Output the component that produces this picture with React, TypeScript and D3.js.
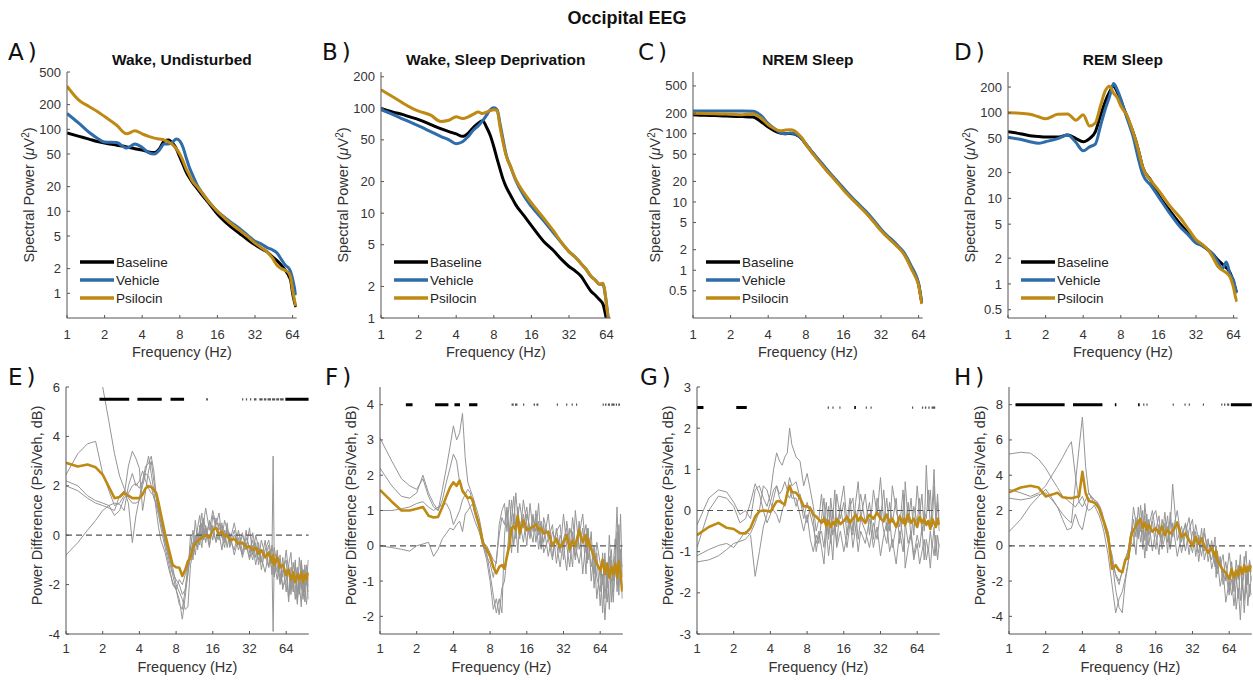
import React from 'react';
import * as d3 from 'd3';

// ================= DATA =================
// Top row: spectral power (µV²) on a shared frequency grid (Hz)
const SPEC_FREQ = [1, 1.25, 1.5, 1.75, 2, 2.5, 3, 3.5, 4, 4.5, 5, 5.5, 6, 6.5, 7, 7.5, 8, 8.5, 9, 9.5, 10, 11, 12, 14, 16, 20, 24, 28, 32, 36, 40, 44, 48, 52, 56, 60, 62, 64, 66, 68];

const A_BASELINE = [90, 82, 76, 71, 68, 64, 61, 58, 56, 53, 52, 58, 72, 74, 68, 58, 46, 37, 30, 26, 23, 19, 16, 12, 9.3, 6.7, 5.4, 4.5, 3.9, 3.5, 3.2, 2.8, 2.5, 2.2, 1.9, 1.6, 1.4, 1.0, 0.8, 0.68];
const A_VEHICLE = [156, 118, 92, 78, 70, 69, 59, 66, 60, 52, 50, 56, 66, 66, 70, 76, 72, 60, 45, 35, 29, 21, 17, 12.5, 10, 7.6, 6.2, 5.1, 4.3, 4.0, 3.6, 3.4, 3.1, 2.6, 2.2, 2.0, 1.8, 1.5, 1.2, 0.95];
const A_PSILOCIN = [335, 225, 190, 165, 143, 112, 88, 96, 88, 82, 78, 76, 74, 70, 65, 58, 50, 41, 33, 28, 24, 20, 17, 12.5, 10, 7.3, 5.9, 4.9, 4.1, 3.6, 3.2, 2.7, 2.2, 2.0, 1.9, 1.75, 1.5, 1.1, 0.85, 0.7];

const B_BASELINE = [100, 92, 87, 82, 78, 70, 64, 60, 57, 54, 58, 66, 72, 76, 66, 55, 43, 33, 26, 21, 18, 14.5, 12, 9.4, 7.6, 5.4, 4.4, 3.6, 3.1, 2.8, 2.5, 2.1, 1.8, 1.65, 1.5, 1.35, 1.15, 0.95, 0.8, 0.7];
const B_VEHICLE = [97, 87, 79, 73, 68, 60, 54, 50, 46, 48, 54, 62, 68, 76, 86, 97, 101, 97, 70, 50, 37, 27, 20.5, 14.5, 11.6, 8.5, 6.5, 5.2, 4.3, 3.8, 3.3, 2.9, 2.5, 2.3, 2.1, 2.1, 1.75, 1.35, 1.0, 0.85];
const B_PSILOCIN = [150, 128, 112, 101, 94, 86, 75, 77, 83, 80, 83, 88, 92, 89, 92, 95, 97, 95, 65, 47, 36, 27, 21, 15.5, 12.5, 9, 6.8, 5.2, 4.3, 3.8, 3.3, 2.9, 2.5, 2.3, 2.1, 2.15, 1.8, 1.3, 1.0, 0.9];

const C_BASELINE = [190, 186, 184, 182, 180, 178, 175, 150, 125, 110, 102, 100, 101, 99, 92, 82, 70, 61, 53, 47, 42, 34, 28, 20.5, 15.5, 10, 7.2, 5.2, 3.9, 3.1, 2.6, 2.2, 1.85, 1.45, 1.1, 0.85, 0.75, 0.62, 0.45, 0.33];
const C_VEHICLE = [215, 215, 215, 215, 215, 215, 213, 185, 140, 118, 104, 100, 102, 100, 93, 83, 71, 62, 54, 48, 43, 35, 29, 21, 16, 10.3, 7.4, 5.4, 4.0, 3.2, 2.7, 2.25, 1.9, 1.5, 1.15, 0.9, 0.78, 0.64, 0.47, 0.34];
const C_PSILOCIN = [200, 198, 196, 194, 193, 190, 196, 170, 135, 118, 110, 113, 114, 110, 98, 85, 70, 60, 52, 46, 41, 33, 27.5, 20, 15, 9.8, 7.0, 5.1, 3.8, 3.05, 2.55, 2.15, 1.8, 1.4, 1.05, 0.82, 0.72, 0.6, 0.44, 0.32];

const D_BASELINE = [60, 57, 54, 53, 52, 52, 55, 50, 46, 50, 60, 93, 135, 175, 205, 175, 140, 110, 90, 73, 60, 38, 23, 16, 11, 7, 5, 3.9, 3.1, 2.8, 2.5, 2.2, 1.9, 1.7, 1.55, 1.35, 1.2, 1.05, 0.9, 0.8];
const D_VEHICLE = [52, 49, 46, 44, 46, 50, 55, 45, 36, 40, 43, 70, 110, 155, 220, 185, 145, 110, 85, 68, 54, 30, 19, 14, 10.5, 6.5, 4.6, 3.7, 3.0, 2.8, 2.5, 2.2, 1.8, 1.5, 1.8, 1.3, 1.2, 1.1, 0.9, 0.78];
const D_PSILOCIN = [100, 99, 96, 90, 85, 96, 97, 82, 95, 70, 76, 120, 180, 205, 170, 150, 120, 105, 92, 75, 60, 38, 23, 16, 12.5, 8, 5.9, 4.3, 3.3, 2.9, 2.5, 2.0, 1.6, 1.45, 1.35, 1.2, 1.05, 0.9, 0.72, 0.62];

// Bottom row: power difference (dB), frequency grid split in low / high part
const DIFF_FREQ_LO = [1, 1.25, 1.5, 1.75, 2, 2.25, 2.5, 2.75, 3, 3.25, 3.5, 3.75, 4, 4.25, 4.5, 4.75, 5, 5.25, 5.5, 5.75, 6, 6.5, 7, 7.5, 8, 8.5, 9, 9.5, 10];
const DIFF_FREQ_HI = [10.5, 11, 11.5, 12, 12.5, 13, 13.5, 14, 15, 16, 17, 18, 19, 20, 21, 22, 24, 26, 28, 30, 32, 34, 36, 38, 40, 43, 46, 49, 50, 51, 54, 57, 60, 64, 67, 70, 73, 76, 79, 82, 85, 88, 91, 94, 97];

// E) Wake, undisturbed
const E_MEAN_LO = [2.93, 2.78, 2.86, 2.75, 2.45, 1.95, 1.5, 1.55, 1.72, 1.6, 1.5, 1.5, 1.5, 1.65, 1.9, 1.98, 1.95, 1.85, 1.7, 1.3, 0.85, 0.05, -0.6, -1.2, -1.3, -1.32, -1.65, -1.4, -1.05];
const E_MEAN_HI = [-0.9, -0.5, -0.35, -0.25, -0.15, -0.1, -0.05, 0.0, -0.1, 0.2, 0.3, 0.05, 0.15, -0.05, 0.0, -0.2, -0.15, -0.35, -0.3, -0.5, -0.45, -0.6, -0.5, -0.75, -0.6, -0.9, -0.7, -1.1, -0.8, -1.2, -0.9, -1.3, -1.2, -1.6, -1.4, -1.8, -1.5, -1.9, -1.6, -1.8, -1.5, -1.9, -1.6, -1.8, -1.5];
const E_SUBJ_LO = [
  [2.45, 3.3, 3.7, 3.8, 2.5, 1.8, 1.2, 1.3, 1.6, 2.8, 3.4, 3.1, 2.7, 1.0, 1.8, 2.6, 3.0, 2.2, 1.5, 1.0, 0.5, -0.3, -0.8, -1.5, -1.8, -2.0, -2.4, -2.2, -1.2],
  [-0.8, -0.3, 0.2, 0.6, 1.0, 1.2, 1.3, 1.25, 1.0, 2.0, 2.5, 2.0, 2.2, 2.6, 2.2, 1.9, 1.7, 1.6, 1.2, 0.8, 0.3, -0.5, -1.2, -2.0, -2.2, -2.6, -3.4, -2.5, -1.5],
  [2.0, 1.8, 1.5, 1.3, 1.2, 1.1, 1.0, 1.6, 1.8, 1.3, -0.3, 0.8, 1.5, 2.2, 2.8, 2.9, 3.2, 2.6, 1.6, 0.9, 0.5, -0.2, -0.9, -1.3, -2.0, -2.3, -2.6, -3.0, -2.9],
  [2.2, 2.0, 1.6, 1.4, 1.3, 1.2, 0.8, 1.0, 1.5, 1.7, 2.0, 2.1, 1.9, 2.2, 2.6, 3.2, 2.5, 1.8, 1.0, 0.3, -0.2, -0.7, -1.4, -1.9, -2.2, -1.8, -2.0, -1.6, -1.3],
  [12, 10.5, 9, 7.5, 6.0, 4.6, 3.3, 2.4, 1.9, 1.5, 1.3, 1.3, 1.4, 2.0, 2.5, 2.4, 2.0, 1.5, 1.3, 1.0, 0.8, -0.3, -1.0, -1.6, -2.2, -2.8, -3.0, -2.2, -1.6],
];
const E_SUBJ_HI = [
  [-0.6, 0.2, -0.4, 0.3, 0.8, -0.2, 0.6, 1.1, 0.2, 1.0, 0.4, 0.9, -0.1, 0.6, 0.2, -0.3, 0.5, -0.4, 0.1, -0.6, 0.3, -0.8, 0.0, -0.5, -1.1, -0.2, -1.3, -0.4, -0.9, -1.6, -0.6, -1.9, -0.9, -2.3, -1.2, -0.7, -2.1, -1.1, -2.4, -0.9, -1.8, -2.6, -1.2, -2.0, -1.0],
  [-0.9, -0.3, -0.8, 0.1, -0.4, 0.5, -0.2, 0.3, -0.5, 0.4, -0.3, 0.1, -0.6, 0.2, -0.5, 0.1, -0.8, -0.1, -0.9, -0.3, -1.0, -0.4, -1.2, -0.5, -0.9, -1.5, -0.7, -1.4, -3.9, -1.1, -1.8, -0.8, -2.2, -1.4, -2.7, -1.6, -2.3, -1.0, -2.6, -1.9, -2.9, -1.4, -2.2, -2.8, -1.7],
  [-1.2, -0.7, -0.2, -0.5, 0.4, -0.1, 0.7, 0.0, 0.5, -0.2, 0.7, 0.2, 0.5, -0.3, 0.3, -0.4, 0.2, -0.6, 0.0, -0.4, -0.9, 0.1, -0.6, -1.0, -0.2, -0.8, -1.3, -0.5, 3.2, -0.9, -1.5, -1.1, -1.7, -0.6, -1.5, -2.2, -1.1, -1.8, -1.3, -2.4, -1.0, -1.7, -2.3, -1.5, -2.1],
  [-0.4, -1.0, 0.0, -0.6, 0.1, -0.5, 0.3, -0.3, 0.6, 0.1, -0.2, 0.5, 0.0, -0.5, 0.3, -0.1, -0.6, 0.2, -0.7, -0.1, -0.5, -1.0, -0.3, -1.2, -0.6, -0.9, -0.4, -1.6, -1.0, -0.5, -1.2, -2.0, -1.4, -1.0, -2.5, -1.3, -1.7, -2.6, -1.5, -2.1, -1.1, -2.5, -1.9, -1.2, -2.6],
  [0.0, -0.5, 0.6, -0.3, 0.2, 0.9, -0.1, 0.4, -0.4, 0.8, 0.3, -0.2, 0.4, -0.2, 0.5, -0.5, 0.0, -0.3, -0.8, 0.2, -0.7, -0.2, -0.9, -0.3, -1.4, -0.6, -0.2, -1.0, -1.3, -1.7, -0.8, -1.5, -2.1, -1.8, -1.2, -2.4, -1.5, -2.0, -2.8, -1.6, -2.2, -1.4, -2.7, -1.8, -2.3],
];
const E_SIG_MAIN = [[1.88, 3.3], [3.85, 6.1], [7.2, 9.3], [63, 98]];
const E_SIG_MINOR = [[14.1, 14.6], [27.8, 28.4], [29.9, 30.5], [32.3, 33], [34.8, 36.5], [38.5, 41], [42, 44], [45, 48], [49, 52], [53, 56], [57, 61]];

// F) Wake, sleep deprivation
const F_MEAN_LO = [1.58, 1.25, 1.0, 1.0, 1.05, 1.1, 0.85, 0.8, 0.82, 1.1, 1.4, 1.65, 1.8, 1.7, 1.85, 1.55, 1.45, 1.35, 1.38, 1.3, 1.0, 0.6, 0.05, -0.1, -0.3, -0.6, -0.78, -0.6, -0.55];
const F_MEAN_HI = [-0.65, -0.3, 0.0, 0.5, 0.55, 0.45, 0.85, 0.35, 0.72, 0.44, 0.5, 0.53, 0.62, 0.45, 0.5, 0.35, 0.4, 0.0, 0.2, -0.05, 0.1, 0.3, -0.1, 0.15, 0.0, 0.45, 0.1, 0.3, 0.0, 0.2, -0.1, -0.3, -0.5, -0.7, -0.4, -0.8, -0.5, -0.9, -0.6, -0.8, -0.5, -0.9, -0.45, -0.8, -1.3];
const F_SUBJ_LO = [
  [3.05, 2.4, 1.9, 1.7, 1.6, 1.9, 1.4, 1.1, 1.0, 1.6, 2.2, 2.8, 3.4, 3.0, 3.2, 3.75, 2.5, 1.8, 1.6, 1.4, 1.2, 0.8, 0.2, -0.2, -0.8, -1.4, -1.9, -1.5, -1.9],
  [2.2, 1.7, 1.4, 1.35, 1.5, 2.0, 1.5, 1.2, 1.0, 1.3, 1.8, 2.2, 2.6, 2.4, 1.8, 1.6, 1.5, 1.3, 1.1, 0.9, 0.7, 0.4, 0.0, -0.4, -1.0, -1.8, -1.5, -1.95, -1.2],
  [1.0, 1.0, 1.05, 1.1, 1.2, 1.25, 1.1, 1.0, 1.1, 1.15, 1.2, 1.0, 0.6, 0.8, 1.0, 1.3, 1.45, 1.6, 1.5, 1.2, 0.9, 0.5, 0.1, -0.3, -0.5, -0.9, -0.4, 0.3, 0.8],
  [0.0, -0.05, -0.1, -0.15, 0.0, 0.05, 0.1, -0.3, -0.1, 0.2, 0.35, 0.5, 0.45, 0.6, 0.7, 0.4, 0.9, 1.0, 1.1, 1.2, 1.0, 0.6, 0.1, 0.0, -0.2, -0.4, -0.5, 0.6, 1.0],
];
const F_SUBJ_HI = [
  [0.3, 1.0, 0.4, 1.3, 0.6, 1.5, 0.8, 1.2, 0.5, 1.1, 0.3, 0.9, 0.1, 0.7, -0.1, 0.8, 0.2, -0.4, 0.5, -0.2, 0.9, 0.0, -0.6, 0.4, -0.3, 0.7, -0.8, 0.2, -0.5, 0.5, -1.0, -0.2, -1.5, -0.6, -1.9, -0.4, -1.2, 0.3, -0.9, -1.6, -0.3, -1.1, 0.6, -0.7, -1.2],
  [-1.0, -0.3, 0.5, -0.2, 0.9, 0.2, 1.1, 0.3, 0.9, 0.0, 1.2, 0.4, 0.8, -0.1, 0.5, 0.1, 0.9, -0.3, 0.4, 0.6, -0.4, 0.7, 0.1, -0.6, 1.0, -0.1, 0.5, -0.8, 0.3, -0.4, 0.4, -1.2, -0.2, -1.7, -0.8, -2.1, -1.0, -0.3, -1.6, -0.5, 0.2, -1.3, -0.6, 0.9, -0.9],
  [0.6, 1.1, 0.2, 0.8, 0.0, 0.6, -0.2, 0.7, 0.1, 0.9, 0.5, 0.1, 1.0, 0.3, 0.7, -0.2, 0.2, 0.6, -0.5, 0.3, 0.0, -0.7, 0.5, 0.2, -0.4, 0.3, 0.9, -0.2, 0.5, 0.1, -0.6, 0.0, -0.9, -1.3, -0.2, -1.5, -0.6, -1.8, -0.4, -1.0, -0.2, 1.1, -0.8, -0.1, -1.5],
  [1.2, 0.4, 1.3, 0.7, 1.4, 0.5, 1.0, 0.2, 1.3, 0.6, 0.2, 0.8, 0.4, 1.2, 0.0, 0.6, -0.3, 0.4, 0.1, -0.6, 0.2, 0.5, -0.2, 0.8, 0.0, -0.5, 0.2, 0.6, -0.3, 0.2, 0.0, -0.8, 0.1, -0.5, -1.1, -0.2, -1.6, -0.9, -0.1, -1.3, -0.7, 0.4, -1.4, -0.3, -0.6],
];
const F_SIG_MAIN = [[1.63, 1.85], [2.83, 3.64], [4.08, 4.53], [5.38, 6.29]];
const F_SIG_MINOR = [[12.0, 12.5], [12.8, 13.4], [14.9, 15.2], [18.2, 18.7], [19.2, 19.9], [28.2, 28.6], [33.6, 34], [37.3, 37.7], [40.5, 40.9], [67, 68.5], [70, 72], [74, 77], [79, 84], [86, 88], [90, 93]];

// G) NREM sleep
const G_MEAN_LO = [-0.6, -0.4, -0.3, -0.42, -0.45, -0.55, -0.56, -0.42, -0.15, -0.02, 0.0, -0.01, -0.03, 0.1, 0.22, 0.23, 0.18, 0.15, 0.42, 0.6, 0.45, 0.43, 0.3, 0.1, 0.1, 0.05, -0.1, -0.15, -0.22];
const G_MEAN_HI = [-0.3, -0.2, -0.38, -0.25, -0.4, -0.28, -0.35, -0.2, -0.33, -0.25, -0.15, -0.3, -0.2, -0.1, -0.25, -0.15, -0.3, -0.1, -0.2, -0.05, -0.2, -0.25, -0.1, -0.3, -0.2, -0.4, -0.15, -0.3, -0.2, -0.35, -0.1, -0.3, -0.2, -0.4, -0.15, -0.3, -0.2, -0.35, -0.25, -0.45, -0.2, -0.3, -0.4, -0.2, -0.35];
const G_SUBJ_LO = [
  [-0.35, 0.3, 0.5, 0.45, 0.2, -0.1, 0.0, -0.2, 0.5, 0.6, 0.3, 0.1, 0.4, 1.0, 1.4, 1.2, 1.1, 1.3, 1.4, 2.0, 1.6, 1.3, 1.2, 0.6, 0.9, 0.5, 0.1, -0.5, -0.2],
  [-0.9, 0.0, 0.35, 0.3, 0.1, -0.3, -0.2, 0.2, 0.65, 0.4, 0.0, -0.3, -0.1, 0.3, 0.6, 0.3, 0.2, 0.1, 0.5, 0.8, 0.6, 0.7, 0.3, -0.2, 0.2, -0.1, -0.4, -0.8, -0.5],
  [-1.1, -0.95, -0.85, -0.8, -0.9, -0.7, -0.5, -0.6, -1.6, -1.0, -0.4, -0.1, 0.2, 0.5, 0.6, 0.4, 0.5, 0.7, 0.5, 0.6, 0.3, 0.3, -0.1, -0.5, -0.1, -0.7, -1.0, -0.6, -0.8],
  [-1.25, -1.2, -1.1, -0.95, -0.8, -0.75, -0.7, -0.55, -0.3, 0.0, 0.6, 0.5, 0.2, 0.0, -0.1, -0.3, 0.0, 0.2, 0.4, 0.3, 0.5, 0.1, 0.4, 0.0, -0.3, 0.1, -0.2, -1.0, -0.6],
];
const G_SUBJ_HI = [
  [0.4, -0.3, 0.2, -0.6, 0.3, -0.2, 0.5, -0.4, 0.1, 0.6, -0.3, 0.3, -0.5, 0.2, 0.7, -0.2, 0.4, -0.6, 0.5, -0.1, 0.8, -0.3, 0.3, -0.5, 0.6, 0.0, -0.4, 0.5, -0.2, 0.7, -0.3, 0.3, -0.6, 0.6, -0.1, 0.4, -0.5, 1.1, 0.0, 0.5, -0.4, 0.6, -0.2, 0.4, -0.3],
  [-0.9, -1.3, -0.5, -1.1, -0.6, -1.2, -0.3, -0.9, -0.5, -1.0, -0.6, -0.2, -0.9, -0.4, -1.0, -0.5, -0.8, -0.2, -0.9, -0.4, -1.1, -0.6, -0.3, -1.0, -0.7, -1.3, -0.5, -1.0, -0.7, -1.4, -0.9, -0.6, -1.2, -0.8, -1.3, -1.0, -0.7, -1.2, -0.9, -1.4, -0.8, -1.1, -0.6, -1.2, -0.8],
  [-0.2, 0.3, -0.5, 0.1, -0.8, 0.0, -0.4, 0.4, -0.2, 0.2, -0.6, 0.1, 0.3, -0.5, 0.0, 0.4, -0.3, 0.2, -0.7, 0.3, -0.2, 0.5, -0.5, 0.2, -0.3, 0.3, -0.8, 0.0, 0.4, -0.4, 0.2, -0.7, 0.1, -0.3, 0.3, -0.6, 0.0, -0.2, 0.5, -0.4, 0.1, 1.0, -0.3, 0.2, -0.5],
  [-0.5, -0.9, -0.2, -0.7, 0.0, -0.6, -0.3, -0.8, 0.1, -0.4, -0.9, -0.3, -0.6, 0.0, -0.7, -0.2, -0.5, -0.9, -0.3, -0.7, 0.0, -0.5, -0.8, -0.2, -0.9, -0.4, -0.1, -0.7, -1.0, -0.3, -0.8, -0.5, -1.1, -0.6, -0.9, -0.4, -1.2, -0.7, -1.0, -0.5, -0.9, -0.4, -1.1, -0.6, -0.9],
];
const G_SIG_MAIN = [[1.0, 1.13], [2.1, 2.56], [19.5, 20.1]];
const G_SIG_MINOR = [[11.8, 12.1], [12.9, 13.2], [14.7, 15], [24.2, 24.6], [26.5, 26.9], [58, 58.7], [70, 71], [74, 76], [79, 81], [84, 90]];

// H) REM sleep
const H_MEAN_LO = [3.03, 3.3, 3.4, 3.3, 2.8, 2.9, 3.0, 2.75, 2.72, 2.7, 2.75, 2.8, 4.2, 3.0, 2.55, 2.5, 2.45, 2.3, 2.1, 1.7, 1.35, 0.55, -1.3, -1.1, -1.4, -1.5, -0.8, -0.7, 0.5];
const H_MEAN_HI = [0.9, 1.1, 1.4, 1.5, 1.0, 1.3, 0.9, 1.2, 0.8, 1.0, 0.7, 1.1, 0.6, 0.9, 0.7, 0.85, 1.3, 0.5, 0.7, 0.3, 0.0, 0.5, 0.1, 0.4, 0.0, -0.4, -0.1, -0.6, -0.3, -0.8, -1.1, -1.4, -1.5, -1.9, -1.3, -1.8, -1.4, -1.7, -1.2, -1.6, -1.1, -1.5, -1.2, -1.4, -1.1];
const H_SUBJ_LO = [
  [5.2, 5.3, 5.25, 4.9, 4.4, 3.8, 3.3, 2.8, 2.6, 2.4, 2.2, 2.5, 2.8, 2.3, 2.0, 2.1, 2.3, 2.0, 1.7, 1.3, 0.8, -0.5, -2.2, -3.8, -3.0, -2.6, -1.8, -0.9, 0.3],
  [3.2, 3.0, 2.8, 3.0, 3.4, 4.0, 4.5, 5.0, 5.5, 5.9, 4.0, 2.5, 2.2, 2.6, 3.0, 2.8, 2.6, 2.5, 2.3, 2.0, 1.5, 0.8, -0.8, -2.5, -3.5, -3.8, -2.0, -1.0, 0.2],
  [2.7, 2.6, 2.7, 2.9, 3.0, 2.6, 2.2, 1.8, 1.5, 1.3, 3.5, 5.5, 7.3, 4.5, 3.0, 2.7, 2.4, 2.5, 2.2, 1.8, 1.4, 0.4, -1.0, -1.6, -2.0, -1.5, -0.7, -0.3, 0.5],
  [0.8, 1.5, 2.3, 2.8, 3.2, 2.7, 2.2, 1.5, 0.9, 1.0, 1.8, 1.2, 0.9, 1.8, 2.6, 2.8, 2.6, 2.5, 2.0, 1.9, 1.2, 0.2, -0.5, -1.7, -2.2, -1.4, -0.9, -0.2, 0.8],
];
const H_SUBJ_HI = [
  [1.5, 0.5, 2.2, 0.8, 2.0, 0.3, 1.8, 0.6, 1.4, -0.2, 1.2, 0.4, 1.9, 0.2, 1.0, 3.5, 0.3, 1.1, -0.3, 0.9, 1.5, -0.6, 0.6, -0.1, 1.0, -0.9, 0.3, -1.2, -0.2, -1.6, -0.8, -2.2, -1.5, -2.8, -0.9, -2.4, -1.6, -3.0, -1.2, -2.3, -0.6, -2.7, -1.5, -0.9, -2.0],
  [0.0, 1.6, 0.4, 2.3, 1.0, 1.7, -0.3, 1.1, 2.0, 0.7, -0.5, 1.5, 0.6, 1.7, -0.2, 0.8, 2.0, 0.2, 1.3, 0.4, -0.4, 0.8, -0.9, 0.5, -0.3, 0.4, -1.3, -0.5, -1.8, -0.7, -2.3, -1.4, -3.2, -2.0, -2.8, -1.5, -3.6, -2.4, -4.2, -2.0, -3.1, -1.6, -3.4, -2.2, -2.8],
  [2.2, 1.3, 0.6, 1.6, -0.2, 2.4, 1.2, 0.0, 1.6, 2.0, 0.7, 0.1, 1.3, -0.4, 1.9, 0.5, 1.4, -0.4, 0.7, 1.6, 0.0, 1.2, 0.3, -0.6, 0.7, -0.2, -0.8, 0.5, -1.0, -0.3, -1.2, -0.5, -2.0, -0.4, -1.6, -2.6, -0.8, -1.9, -0.5, -2.5, -1.2, -0.3, -2.2, -0.8, -1.5],
  [0.6, -0.5, 1.4, 0.2, 0.9, -0.7, 0.8, 1.5, -0.3, 0.9, 1.7, -0.2, 0.5, 1.1, -0.1, 1.3, -0.6, 0.6, 1.2, -0.5, 0.8, 0.2, -0.4, 1.0, -0.8, 0.2, -0.3, -1.0, 0.0, -1.3, -0.6, -1.8, -0.9, -2.5, -1.9, -3.4, -2.2, -1.1, -3.1, -1.8, -3.8, -2.1, -1.3, -2.9, -1.7],
];
const H_SIG_MAIN = [[1.13, 2.86], [3.35, 5.84], [7.38, 7.6], [11.45, 11.8], [66, 100]];
const H_SIG_MINOR = [[12.6, 12.9], [13.4, 13.7], [22, 22.4], [27.5, 27.9], [29.8, 30.2], [38.9, 39.3], [55, 55.6], [58, 59.5], [61.5, 64]];

// Ticks
const FREQ_TICKS = [1, 2, 4, 8, 16, 32, 64];
const A_YTICKS = [1, 2, 5, 10, 20, 50, 100, 200, 500];
const B_YTICKS = [1, 2, 5, 10, 20, 50, 100, 200];
const C_YTICKS = [0.5, 1, 2, 5, 10, 20, 50, 100, 200, 500];
const D_YTICKS = [0.5, 1, 2, 5, 10, 20, 50, 100, 200];
const E_YTICKS = [-4, -2, 0, 2, 4, 6];
const F_YTICKS = [-2, -1, 0, 1, 2, 3, 4];
const G_YTICKS = [-3, -2, -1, 0, 1, 2, 3];
const H_YTICKS = [-4, -2, 0, 2, 4, 6, 8];

// ================= STYLE / LAYOUT =================
const FONT = '"Liberation Sans", Arial, Helvetica, sans-serif';
const LETTER_FONT = '"DejaVu Sans", "Open Sans", sans-serif';
const COL_BASE = '#000000';
const COL_VEH = '#2E6DAA';
const COL_PSI = '#BF8A14';
const AXIS_COL = '#555555';
const TEXT_COL = '#333333';

const TOP_T = 72, TOP_B = 318, TOP_OCT = 37.6;
const BOT_T = 387, BOT_B = 634, BOT_OCT = 36.7;
const SPEC_X_DOMAIN = [1, 69];
const DIFF_X_DOMAIN = [1, 98];

const TOP_PANELS = [
  { letter: 'A)', letterX: 8, title: 'Wake, Undisturbed', left: 67, yDomain: [0.5, 500], yTicks: A_YTICKS, base: A_BASELINE, veh: A_VEHICLE, psi: A_PSILOCIN },
  { letter: 'B)', letterX: 322, title: 'Wake, Sleep Deprivation', left: 381, yDomain: [1, 222], yTicks: B_YTICKS, base: B_BASELINE, veh: B_VEHICLE, psi: B_PSILOCIN },
  { letter: 'C)', letterX: 638, title: 'NREM Sleep', left: 693, yDomain: [0.2, 800], yTicks: C_YTICKS, base: C_BASELINE, veh: C_VEHICLE, psi: C_PSILOCIN },
  { letter: 'D)', letterX: 954, title: 'REM Sleep', left: 1008, yDomain: [0.4, 300], yTicks: D_YTICKS, base: D_BASELINE, veh: D_VEHICLE, psi: D_PSILOCIN },
];

const BOTTOM_PANELS = [
  { letter: 'E)', letterX: 8, left: 66, yDomain: [-4, 6], yTicks: E_YTICKS, meanLo: E_MEAN_LO, meanHi: E_MEAN_HI, subjLo: E_SUBJ_LO, subjHi: E_SUBJ_HI, sigLevel: 5.5, sigMain: E_SIG_MAIN, sigMinor: E_SIG_MINOR },
  { letter: 'F)', letterX: 325, left: 380, yDomain: [-2.5, 4.5], yTicks: F_YTICKS, meanLo: F_MEAN_LO, meanHi: F_MEAN_HI, subjLo: F_SUBJ_LO, subjHi: F_SUBJ_HI, sigLevel: 4, sigMain: F_SIG_MAIN, sigMinor: F_SIG_MINOR },
  { letter: 'G)', letterX: 640, left: 697, yDomain: [-3, 3], yTicks: G_YTICKS, meanLo: G_MEAN_LO, meanHi: G_MEAN_HI, subjLo: G_SUBJ_LO, subjHi: G_SUBJ_HI, sigLevel: 2.5, sigMain: G_SIG_MAIN, sigMinor: G_SIG_MINOR },
  { letter: 'H)', letterX: 954, left: 1009, yDomain: [-5, 9], yTicks: H_YTICKS, meanLo: H_MEAN_LO, meanHi: H_MEAN_HI, subjLo: H_SUBJ_LO, subjHi: H_SUBJ_HI, sigLevel: 8, sigMain: H_SIG_MAIN, sigMinor: H_SIG_MINOR },
];

function zip(xs: number[], ys: number[]): [number, number][] {
  const n = Math.min(xs.length, ys.length);
  const out: [number, number][] = [];
  for (let i = 0; i < n; i++) out.push([xs[i], ys[i]]);
  return out;
}

const fmt = (v: number) => String(v);

function TopPanel({ p, idx }: { p: any; idx: number }) {
  const x = d3.scaleLog().domain(SPEC_X_DOMAIN).range([p.left, p.left + TOP_OCT * Math.log2(SPEC_X_DOMAIN[1])]);
  const y = d3.scaleLog().domain(p.yDomain).range([TOP_B, TOP_T]);
  const [xa, xb] = x.range();
  const line = d3.line<[number, number]>().x(d => x(d[0])).y(d => y(d[1])).curve(d3.curveMonotoneX);
  const clipId = `clip-top-${idx}`;
  const series = [
    { vals: p.base, color: COL_BASE, label: 'Baseline' },
    { vals: p.veh, color: COL_VEH, label: 'Vehicle' },
    { vals: p.psi, color: COL_PSI, label: 'Psilocin' },
  ];
  const cx = (xa + xb) / 2;
  const cy = (TOP_T + TOP_B) / 2;
  const legendRows = [262, 280, 298];
  return (
    <g>
      <defs>
        <clipPath id={clipId}>
          <rect x={xa} y={TOP_T} width={xb - xa} height={TOP_B - TOP_T} />
        </clipPath>
      </defs>
      <text x={p.letterX} y={60} fontFamily={LETTER_FONT} fontSize={23} letterSpacing={4} fill="#111">{p.letter}</text>
      <text x={cx} y={65} textAnchor="middle" fontFamily={FONT} fontSize={15.5} fontWeight="bold" fill="#111">{p.title}</text>
      <g clipPath={`url(#${clipId})`}>
        {series.map(s => (
          <path key={s.label} d={line(zip(SPEC_FREQ, s.vals)) || ''} fill="none" stroke={s.color} strokeWidth={3} strokeLinejoin="round" />
        ))}
      </g>
      {/* axes */}
      <line x1={xa} x2={xa} y1={TOP_T} y2={TOP_B} stroke={AXIS_COL} strokeWidth={1} />
      <line x1={xa} x2={xb} y1={TOP_B} y2={TOP_B} stroke={AXIS_COL} strokeWidth={1} />
      {p.yTicks.map((t: number) => (
        <g key={'y' + t}>
          <line x1={xa} x2={xa + 3} y1={y(t)} y2={y(t)} stroke={AXIS_COL} />
          <text x={xa - 6} y={y(t)} dy="0.35em" textAnchor="end" fontFamily={FONT} fontSize={13} fill={TEXT_COL}>{fmt(t)}</text>
        </g>
      ))}
      {FREQ_TICKS.map(t => (
        <g key={'x' + t}>
          <line x1={x(t)} x2={x(t)} y1={TOP_B} y2={TOP_B - 3} stroke={AXIS_COL} />
          <text x={x(t)} y={339} textAnchor="middle" fontFamily={FONT} fontSize={13} fill={TEXT_COL}>{t}</text>
        </g>
      ))}
      <text x={cx} y={357} textAnchor="middle" fontFamily={FONT} fontSize={14.5} fill={TEXT_COL}>Frequency (Hz)</text>
      <text transform={`translate(${xa - 38},${cy}) rotate(-90)`} textAnchor="middle" dy="0.35em" fontFamily={FONT} fontSize={14.5} fill={TEXT_COL}>
        Spectral Power (<tspan fontStyle="italic">μ</tspan>V<tspan dy="-5" fontSize={10}>2</tspan><tspan dy="5">)</tspan>
      </text>
      {/* legend */}
      {series.map((s, i) => (
        <g key={'lg' + s.label}>
          <line x1={xa + 13} x2={xa + 47} y1={legendRows[i]} y2={legendRows[i]} stroke={s.color} strokeWidth={3.5} />
          <text x={xa + 49} y={legendRows[i]} dy="0.35em" fontFamily={FONT} fontSize={13.5} fill="#222">{s.label}</text>
        </g>
      ))}
    </g>
  );
}

function BottomPanel({ p, idx }: { p: any; idx: number }) {
  const x = d3.scaleLog().domain(DIFF_X_DOMAIN).range([p.left, p.left + BOT_OCT * Math.log2(DIFF_X_DOMAIN[1])]);
  const y = d3.scaleLinear().domain(p.yDomain).range([BOT_B, BOT_T]);
  const [xa, xb] = x.range();
  const freqs = DIFF_FREQ_LO.concat(DIFF_FREQ_HI);
  const line = d3.line<[number, number]>().x(d => x(d[0])).y(d => y(d[1]));
  const clipId = `clip-bot-${idx}`;
  const cx = (xa + xb) / 2;
  const cy = (BOT_T + BOT_B) / 2;
  const sy = y(p.sigLevel);
  return (
    <g>
      <defs>
        <clipPath id={clipId}>
          <rect x={xa} y={BOT_T} width={xb - xa} height={BOT_B - BOT_T} />
        </clipPath>
      </defs>
      <text x={p.letterX} y={385} fontFamily={LETTER_FONT} fontSize={23} letterSpacing={4} fill="#111">{p.letter}</text>
      <g clipPath={`url(#${clipId})`}>
        {p.subjLo.map((lo: number[], i: number) => (
          <path key={'s' + i} d={line(zip(freqs, lo.concat(p.subjHi[i]))) || ''} fill="none" stroke="#959595" strokeWidth={1} strokeLinejoin="round" />
        ))}
        <line x1={xa} x2={xb} y1={y(0)} y2={y(0)} stroke="#555" strokeWidth={1.2} strokeDasharray="6 4" />
        <path d={line(zip(freqs, p.meanLo.concat(p.meanHi))) || ''} fill="none" stroke={COL_PSI} strokeWidth={2.6} strokeLinejoin="round" />
        {p.sigMinor.map((r: number[], i: number) => (
          <line key={'m' + i} x1={x(r[0])} x2={Math.max(x(r[1]), x(r[0]) + 1.2)} y1={sy} y2={sy} stroke="#555" strokeWidth={2.2} />
        ))}
        {p.sigMain.map((r: number[], i: number) => (
          <line key={'M' + i} x1={x(r[0])} x2={Math.max(x(r[1]), x(r[0]) + 1.5)} y1={sy} y2={sy} stroke="#000" strokeWidth={3} />
        ))}
      </g>
      <line x1={xa} x2={xa} y1={BOT_T} y2={BOT_B} stroke={AXIS_COL} strokeWidth={1} />
      <line x1={xa} x2={xb} y1={BOT_B} y2={BOT_B} stroke={AXIS_COL} strokeWidth={1} />
      {p.yTicks.map((t: number) => (
        <g key={'y' + t}>
          <line x1={xa} x2={xa + 3} y1={y(t)} y2={y(t)} stroke={AXIS_COL} />
          <text x={xa - 6} y={y(t)} dy="0.35em" textAnchor="end" fontFamily={FONT} fontSize={13} fill={TEXT_COL}>{fmt(t)}</text>
        </g>
      ))}
      {FREQ_TICKS.map(t => (
        <g key={'x' + t}>
          <line x1={x(t)} x2={x(t)} y1={BOT_B} y2={BOT_B - 3} stroke={AXIS_COL} />
          <text x={x(t)} y={653} textAnchor="middle" fontFamily={FONT} fontSize={13} fill={TEXT_COL}>{t}</text>
        </g>
      ))}
      <text x={cx} y={672} textAnchor="middle" fontFamily={FONT} fontSize={14.5} fill={TEXT_COL}>Frequency (Hz)</text>
      <text transform={`translate(${xa - 29},${cy - 5}) rotate(-90)`} textAnchor="middle" dy="0.35em" fontFamily={FONT} fontSize={14.5} fill={TEXT_COL}>
        Power Difference (Psi/Veh, dB)
      </text>
    </g>
  );
}

export default function App() {
  return (
    <svg width={1253} height={680} viewBox="0 0 1253 680" style={{ position: 'absolute', left: 0, top: 0, background: '#fff' }}>
      <rect x={0} y={0} width={1253} height={680} fill="#fff" />
      <text x={627} y={24} textAnchor="middle" fontFamily={FONT} fontSize={18} fontWeight="bold" fill="#111">Occipital EEG</text>
      {TOP_PANELS.map((p, i) => <TopPanel key={p.letter} p={p} idx={i} />)}
      {BOTTOM_PANELS.map((p, i) => <BottomPanel key={p.letter} p={p} idx={i} />)}
    </svg>
  );
}
